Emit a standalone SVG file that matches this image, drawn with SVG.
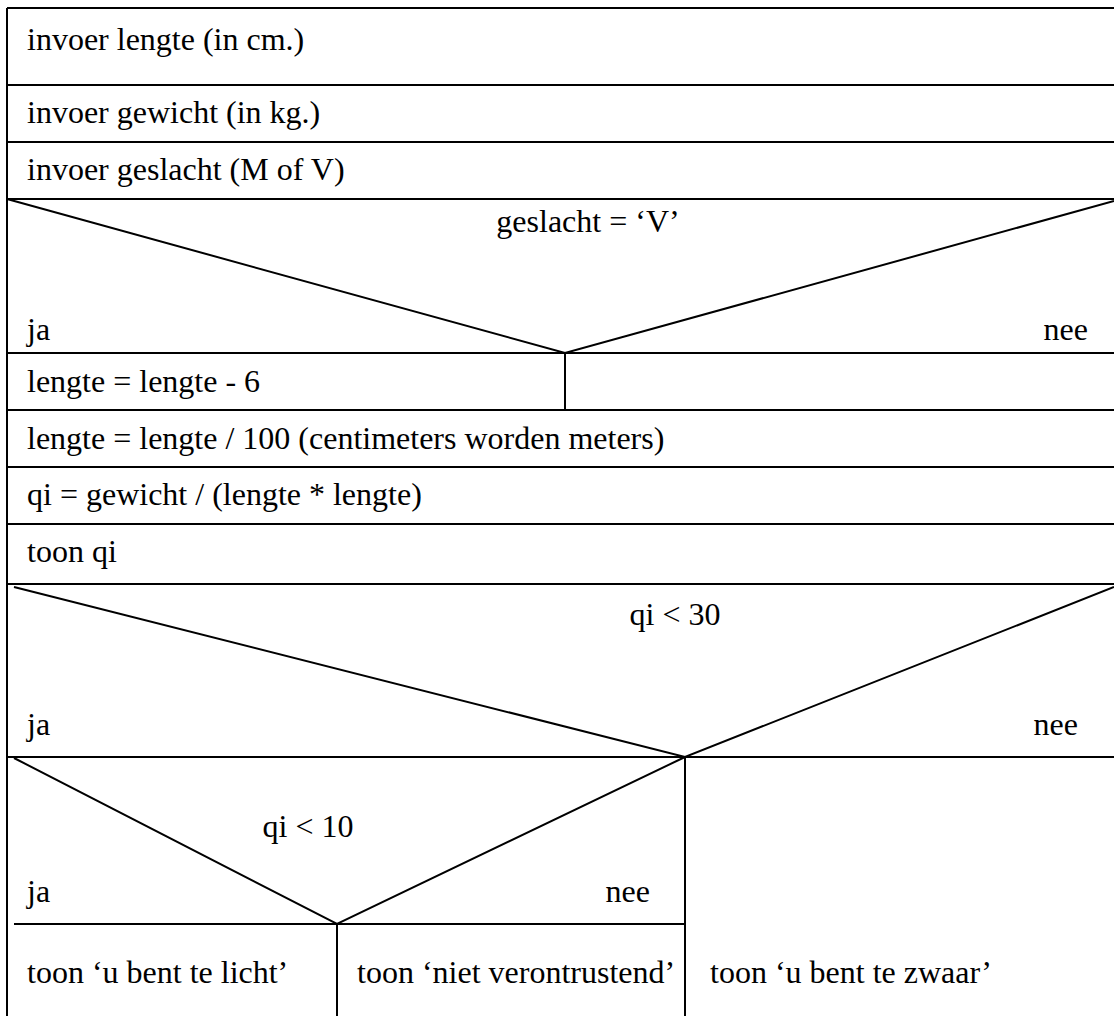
<svg xmlns="http://www.w3.org/2000/svg" width="1114" height="1016" viewBox="0 0 1114 1016">
<style>
.ln{stroke:#000;stroke-width:2;fill:none}
</style>
<rect width="1114" height="1016" fill="#fff"/>
<g id="connectors">
<path class="ln" d="M7,8 V1016 M7,8 H1114 M7,85 H1114 M7,142 H1114 M7,199 H1114 M7,353 H1114 M7,410 H1114 M7,467 H1114 M7,524 H1114 M7,584 H1114 M7,757 H1114"/>
<path class="ln" d="M7,199 L565,353 L1114,201 M565,353 V410"/>
<path class="ln" d="M14,587 L685,757 L1114,587 M685,757 V1016"/>
<path class="ln" d="M14,758 L337,924 L685,757 M14,924 H685 M337,924 V1016"/>
</g>
<g id="n1"><text x="27" y="50" font-family="Liberation Serif" font-size="32">invoer lengte (in cm.)</text></g>
<g id="n2"><text x="27" y="123" font-family="Liberation Serif" font-size="32">invoer gewicht (in kg.)</text></g>
<g id="n3"><text x="27" y="180" font-family="Liberation Serif" font-size="32">invoer geslacht (M of V)</text></g>
<g id="d1"><text x="588" y="232" font-family="Liberation Serif" font-size="32" text-anchor="middle">geslacht = ‘V’</text><text x="27" y="340" font-family="Liberation Serif" font-size="32">ja</text><text x="1088" y="340" font-family="Liberation Serif" font-size="32" text-anchor="end">nee</text></g>
<g id="n4"><text x="27" y="392" font-family="Liberation Serif" font-size="32">lengte = lengte - 6</text></g>
<g id="n5"><text x="27" y="449" font-family="Liberation Serif" font-size="32">lengte = lengte / 100 (centimeters worden meters)</text></g>
<g id="n6"><text x="27" y="505" font-family="Liberation Serif" font-size="32">qi = gewicht / (lengte * lengte)</text></g>
<g id="n7"><text x="27" y="562" font-family="Liberation Serif" font-size="32">toon qi</text></g>
<g id="d2"><text x="675" y="625" font-family="Liberation Serif" font-size="32" text-anchor="middle">qi &lt; 30</text><text x="27" y="735" font-family="Liberation Serif" font-size="32">ja</text><text x="1078" y="735" font-family="Liberation Serif" font-size="32" text-anchor="end">nee</text></g>
<g id="d3"><text x="308" y="837" font-family="Liberation Serif" font-size="32" text-anchor="middle">qi &lt; 10</text><text x="27" y="902" font-family="Liberation Serif" font-size="32">ja</text><text x="650" y="902" font-family="Liberation Serif" font-size="32" text-anchor="end">nee</text></g>
<g id="n8"><text x="27" y="983" font-family="Liberation Serif" font-size="32">toon ‘u bent te licht’</text></g>
<g id="n9"><text x="357" y="983" font-family="Liberation Serif" font-size="32">toon ‘niet verontrustend’</text></g>
<g id="n10"><text x="710" y="983" font-family="Liberation Serif" font-size="32">toon ‘u bent te zwaar’</text></g>
</svg>
